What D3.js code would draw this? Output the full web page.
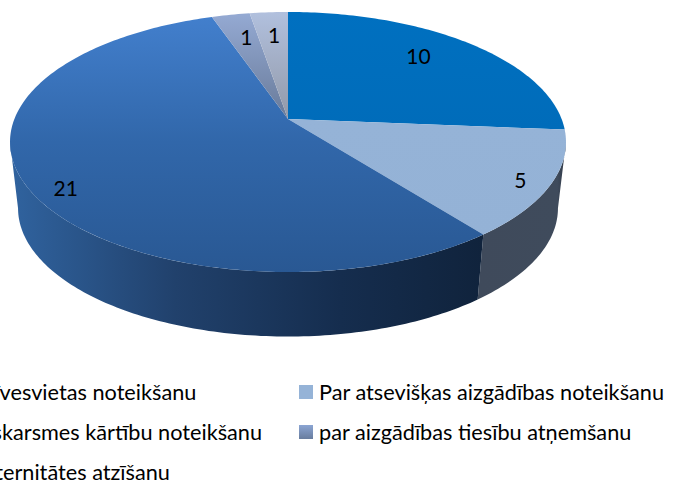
<!doctype html>
<html>
<head>
  <meta charset="UTF-8">
  <title>Pie</title>
  <script src="https://cdn.jsdelivr.net/npm/d3@7"></script>
  <style>
    html, body { margin: 0; padding: 0; background: #fff; overflow: hidden; }
    text { font-family: Lato, sans-serif; fill: #000; }
  </style>
</head>
<body>
  <script>
    var categories = [
      "Par dzīvesvietas noteikšanu",
      "Par atsevišķas aizgādības noteikšanu",
      "Par saskarsmes kārtību noteikšanu",
      "par aizgādības tiesību atņemšanu",
      "Par paternitātes atzīšanu"
    ];
    var values = [10, 5, 21, 1, 1];

    var w = 677, h = 481;
    var cx = 288;
    var k = 46 / 260; // perspective of the tilted disc

    var svg = d3.select("body").append("svg").attr("width", w).attr("height", h);
    var defs = svg.append("defs");

    // top face and bottom face of the disc, both as perspective views of a circle
    function topPoint(a, r) {
      var c = r * Math.cos(a), s = r * Math.sin(a), d = 1 + k * c;
      return [cx + 273.6 * s / d, (119 - 104.9 * c) / d];
    }
    function bottomPoint(a) {
      var c = Math.cos(a), s = Math.sin(a), d = 1 + k * c;
      return [cx + 265.7 * s / d, (185.5 - 91.5 * c) / d];
    }

    // walls only show between the two outermost points of the disc
    var rightEdge = Math.acos(-k);
    var leftEdge = 2 * Math.PI - rightEdge;

    function arcAngles(a0, a1) {
      var n = Math.max(4, Math.ceil((a1 - a0) * 60));
      return d3.range(n + 1).map(function(i) {
        return a0 + (a1 - a0) * i / n;
      });
    }

    var line = d3.line();
    var arcs = d3.pie().sort(null).startAngle(0).endAngle(2 * Math.PI)(values);

    function gradient(id, x1, y1, x2, y2, stops, units) {
      var g = defs.append("linearGradient").attr("id", id)
        .attr("gradientUnits", units || "userSpaceOnUse")
        .attr("x1", x1).attr("y1", y1).attr("x2", x2).attr("y2", y2);
      stops.forEach(function(s) {
        g.append("stop").attr("offset", s[0]).attr("stop-color", s[1]);
      });
    }

    gradient("top0", 0, 12, 0, 130, [[0, "#0070c0"], [1, "#006cba"]]);
    gradient("top1", 0, 120, 0, 235, [[0, "#95b3d7"], [1, "#94b2d6"]]);
    gradient("top2", 0, 12, 0, 272, [[0, "#4380ce"], [0.5, "#3167aa"], [1, "#295893"]]);
    gradient("top3", 0, 15, 0, 119, [[0, "#94a9d2"], [1, "#687a99"]]);
    gradient("top4", 0, 12, 0, 119, [[0, "#b1c0de"], [1, "#9299a8"]]);
    gradient("side2", 10, 0, 483, 0, [[0, "#30639f"], [0.35, "#21416c"], [0.7, "#152d4e"], [1, "#10233c"]]);
    gradient("side1", 478, 0, 566, 0, [[0, "#3f4a5b"], [0.9, "#3f4b5c"], [1, "#2f3846"]]);
    gradient("swatch3", 0, 0, 0, 1, [[0, "#8ba5d3"], [1, "#687d9e"]], "objectBoundingBox");
    gradient("swatch2", 0, 0, 0, 1, [[0, "#4380ce"], [1, "#295893"]], "objectBoundingBox");
    gradient("swatch4", 0, 0, 0, 1, [[0, "#b1c0de"], [1, "#9299a8"]], "objectBoundingBox");

    // walls first, the top face then covers whatever lies behind it
    svg.selectAll("path.wall")
      .data(arcs.filter(function(d) { return d.endAngle > rightEdge && d.startAngle < leftEdge; }))
      .enter().append("path")
      .attr("class", "wall")
      .attr("fill", function(d) { return "url(#side" + d.index + ")"; })
      .attr("d", function(d) {
        var as = arcAngles(Math.max(d.startAngle, rightEdge), Math.min(d.endAngle, leftEdge));
        var pts = as.map(function(a) { return topPoint(a, 1); })
          .concat(as.slice().reverse().map(bottomPoint));
        return line(pts) + "Z";
      });

    svg.selectAll("path.slice")
      .data(arcs)
      .enter().append("path")
      .attr("class", "slice")
      .attr("fill", function(d) { return "url(#top" + d.index + ")"; })
      .attr("d", function(d) {
        var pts = [topPoint(0, 0)].concat(arcAngles(d.startAngle, d.endAngle).map(function(a) {
          return topPoint(a, 1);
        }));
        return line(pts) + "Z";
      });

    // value labels sit at their own radius, as they were placed by hand in the original
    var labelR = [0.75, 0.9, 0.85, 0.75, 0.75];
    var labelDy = [-5, 2, 14, -1, -1];
    var labelDx = [-8, -2, -2, 3, 1];
    svg.selectAll("text.value")
      .data(arcs)
      .enter().append("text")
      .attr("class", "value")
      .attr("text-anchor", "middle")
      .attr("dominant-baseline", "central")
      .attr("font-size", 21)
      .attr("x", function(d) {
        return topPoint((d.startAngle + d.endAngle) / 2, labelR[d.index])[0] + labelDx[d.index];
      })
      .attr("y", function(d) {
        return topPoint((d.startAngle + d.endAngle) / 2, labelR[d.index])[1] + labelDy[d.index];
      })
      .text(function(d) { return d.data; });

    // legend fills row by row, two columns; the left column runs off the page
    var colX = d3.scaleOrdinal().domain([0, 1]).range([-84, 299]);
    var rowY = d3.scaleLinear().domain([0, 1]).range([392, 432]);
    var swatch = ["#0070c0", "#95b3d7", "url(#swatch2)", "url(#swatch3)", "url(#swatch4)"];

    var item = svg.selectAll("g.legend")
      .data(categories)
      .enter().append("g")
      .attr("class", "legend")
      .attr("transform", function(d, i) {
        return "translate(" + colX(i % 2) + "," + rowY(Math.floor(i / 2)) + ")";
      });
    item.append("rect")
      .attr("y", -7).attr("width", 14).attr("height", 14)
      .attr("fill", function(d, i) { return swatch[i]; });
    item.append("text")
      .attr("x", 20)
      .attr("dominant-baseline", "central")
      .attr("font-size", 21.7)
      .text(function(d) { return d; });
  </script>
</body>
</html>
